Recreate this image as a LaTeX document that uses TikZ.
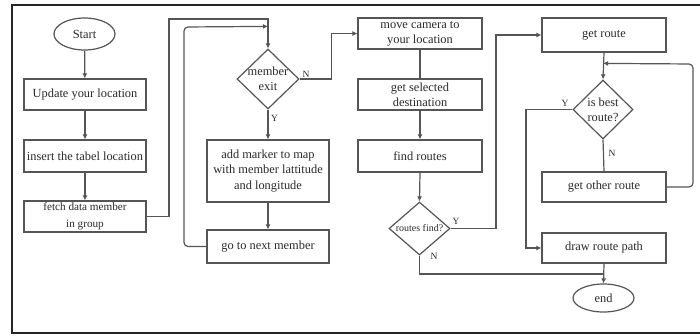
\documentclass[tikz,border=0pt]{standalone}
\usepackage{fontspec}
\setmainfont{Liberation Serif}
\usetikzlibrary{shapes.geometric,arrows.meta,calc}
\definecolor{ln}{HTML}{555555}
\definecolor{tx}{HTML}{2A2A2A}
\tikzset{
  box/.style={draw=ln,line width=1.2pt,rectangle,inner sep=0pt,align=center,
              text=tx,font=\fontsize{12.4}{15.3}\selectfont},
  oval/.style={draw=ln,line width=1.2pt,ellipse,inner sep=0pt,text=tx,
              font=\fontsize{12.4}{15.3}\selectfont},
  dia/.style={draw=ln,line width=1.2pt,diamond,inner sep=0pt},
  dtext/.style={align=center,text=tx,inner sep=0pt},
  yn/.style={text=tx,inner sep=0pt,font=\fontsize{9.5}{11}\selectfont},
  con/.style={draw=ln,line width=1.2pt},
  arr/.style={con,-{Latex[length=5pt,width=5pt]}},
}
\begin{document}
\begin{tikzpicture}[x=1pt,y=-1pt]
\useasboundingbox (0,0) rectangle (700,335);
% outer frame
\draw[line width=2pt,black!85] (12,5) rectangle (706,333);

% left column
\node[oval,minimum width=61pt,minimum height=32pt] (start) at (84.5,34) {Start};
\node[box,minimum width=122pt,minimum height=31pt] (upd) at (85,94.5) {Update your location};
\node[box,minimum width=122pt,minimum height=32pt] (ins) at (85,156) {insert the tabel location};
\node[box,minimum width=122pt,minimum height=31pt,font=\fontsize{11.2}{16.5}\selectfont] (fet) at (85,216.5) {fetch data member\\in group};

% member loop
\node[dia,minimum width=62pt,minimum height=60pt] (md) at (268,79) {};
\node[dtext,font=\fontsize{12.4}{15.3}\selectfont] (mdt) at (md.center) {member\\exit};
\node[box,minimum width=122pt,minimum height=62pt] (add) at (268,171) {add marker to map\\with member lattitude\\and longitude};
\node[box,minimum width=122pt,minimum height=33pt] (nxt) at (268,246.5) {go to next member};

% camera and routes
\node[box,minimum width=124pt,minimum height=31pt] (cam) at (420,33.5) {move camera to\\your location};
\node[box,minimum width=124pt,minimum height=31pt] (sel) at (420,94.5) {get selected\\destination};
\node[box,minimum width=124pt,minimum height=32pt] (fnd) at (420,156) {find routes};
\node[dia,minimum width=61pt,minimum height=53pt] (rd) at (419.5,228.5) {};
\node[dtext,font=\fontsize{10}{12}\selectfont] (rdt) at (rd.center) {routes find?};

% best route selection
\node[box,minimum width=124pt,minimum height=34pt] (gr) at (604,35) {get route};
\node[dia,minimum width=60pt,minimum height=59pt] (bd) at (603,109.5) {};
\node[dtext,font=\fontsize{12.4}{15.3}\selectfont] (bdt) at (bd.center) {is best\\route?};
\node[box,minimum width=124pt,minimum height=30pt] (oth) at (604,187) {get other route};
\node[box,minimum width=124pt,minimum height=30pt] (drw) at (604,248) {draw route path};
\node[oval,minimum width=61pt,minimum height=28pt] (end) at (603.5,298) {end};

% branch labels
\node[yn] (mdN) at (306,74) {N};
\node[yn] (mdY) at (274.5,118) {Y};
\node[yn] (rdY) at (456,221) {Y};
\node[yn] (rdN) at (434,256) {N};
\node[yn] (bdY) at (565,103) {Y};
\node[yn] (bdN) at (612,153) {N};

% junction points
\coordinate (loopin) at ($(md.north)+(0,-22)$);
\coordinate (bestin) at ($(bd.north)+(0,-16)$);
\coordinate (join) at (end.north |- 0,274);

% connectors
\draw[arr] (start) -- (upd);
\draw[arr] (upd) -- (ins);
\draw[arr] (ins) -- (fet);
\draw[arr] (fet.east) -- (169,216.5) -- (169,19) -| (md.north);
\draw[arr,rounded corners=4pt] (nxt.west) -- (184,246.5) -- (184,27) -- (loopin);
\draw[arr] (md.south) -- (add.north);
\draw[arr] (add.south) -- (nxt.north);
\draw[arr] (md.east) -- (331.5,79) |- (cam.west);
\draw[con] (cam.south) -- (sel.north);
\draw[arr] (sel.south) -- (fnd.north);
\draw[arr] (fnd.south) -- (rd.north);
\draw[arr] (rd.east) -- (496,228.5) |- (gr.west);
\draw[con] (rd.south) |- (join);
\draw[arr] (gr.south) -- (bd.north);
\draw[arr] (bd.west) -- (526,109.5) |- (drw.west);
\draw[con] (bd.south) -- (oth.north);
\draw[arr,rounded corners=4pt] (oth.east) -- (693,187) -- (693,64) -- (bestin);
\draw[arr] (drw.south) -- (end.north);
\end{tikzpicture}
\end{document}
